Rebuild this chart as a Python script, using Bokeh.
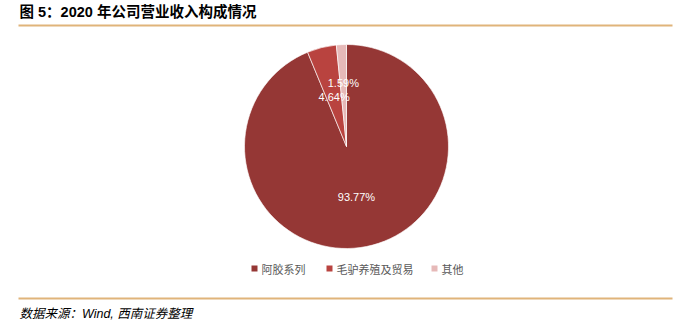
import numpy as np
from bokeh.plotting import figure
from bokeh.models import Range1d
from bokeh.core.properties import value
from bokeh.embed import file_html
from bokeh.resources import INLINE

# Revenue mix, 2020 (share of total, %)
categories = ["阿胶系列", "毛驴养殖及贸易", "其他"]
shares = [93.77, 4.64, 1.59]
share_labels = ["93.77%", "4.64%", "1.59%"]

colors = ["#953735", "#B9433F", "#E6B9B8"]
label_radius = [0.50, 0.50, 0.62]   # fraction of pie radius for each value label

W, H = 694, 324
p = figure(width=W, height=H, output_backend="svg", toolbar_location=None,
           x_range=Range1d(0, W), y_range=Range1d(0, H),
           min_border=0, outline_line_color=None)
p.axis.visible = False
p.grid.visible = False
p.background_fill_color = "white"
p.border_fill_color = "white"

def Y(y):
    return H - y

cx, cy, r = 346, Y(146), 102

frac = np.array(shares) / 100.0
cum = np.concatenate([[0], np.cumsum(frac)])
start = np.pi / 2 - 2 * np.pi * cum[:-1]
end = np.pi / 2 - 2 * np.pi * cum[1:]

p.wedge(x=[cx] * 3, y=[cy] * 3, radius=r, radius_units="screen",
        start_angle=list(start), end_angle=list(end), direction="clock",
        fill_color=colors, line_color="white", line_width=0.8, line_alpha=0.8)

mid = (start + end) / 2
lx = [cx + np.cos(m) * r * f for m, f in zip(mid, label_radius)]
ly = [cy + np.sin(m) * r * f for m, f in zip(mid, label_radius)]
p.text(x=lx, y=ly, text=share_labels, text_align="center", text_baseline="middle",
       text_font=value("Liberation Sans"), text_font_size="11px", text_color="white")

# title and rules
p.text(x=[19], y=[Y(11)], text=["图 5：2020 年公司营业收入构成情况"],
       text_font=value("Liberation Sans, Noto Sans CJK SC"), text_font_style="bold",
       text_font_size="14.5px", text_baseline="middle", text_color="black")
p.segment(x0=[18], y0=[Y(25)], x1=[672], y1=[Y(25)], line_color="#E0B47A", line_width=2)
p.segment(x0=[18], y0=[Y(298)], x1=[672], y1=[Y(298)], line_color="#E0B47A", line_width=2)
p.text(x=[19], y=[Y(313)], text=["数据来源：Wind, 西南证券整理"],
       text_font=value("Liberation Sans, Noto Sans CJK SC"), text_font_style="italic",
       text_font_size="12.5px", text_baseline="middle", text_color="black")

# legend
lg_x = [254, 329, 434]
p.scatter(x=lg_x, y=[Y(268)] * 3, marker="square", size=6, fill_color=colors, line_color=None)
p.text(x=[v + 7 for v in lg_x], y=[Y(268)] * 3, text=categories,
       text_font=value("Noto Sans CJK SC"), text_font_size="11px",
       text_baseline="middle", text_color="#595959")

open("out.html", "w").write(file_html(p, INLINE))
